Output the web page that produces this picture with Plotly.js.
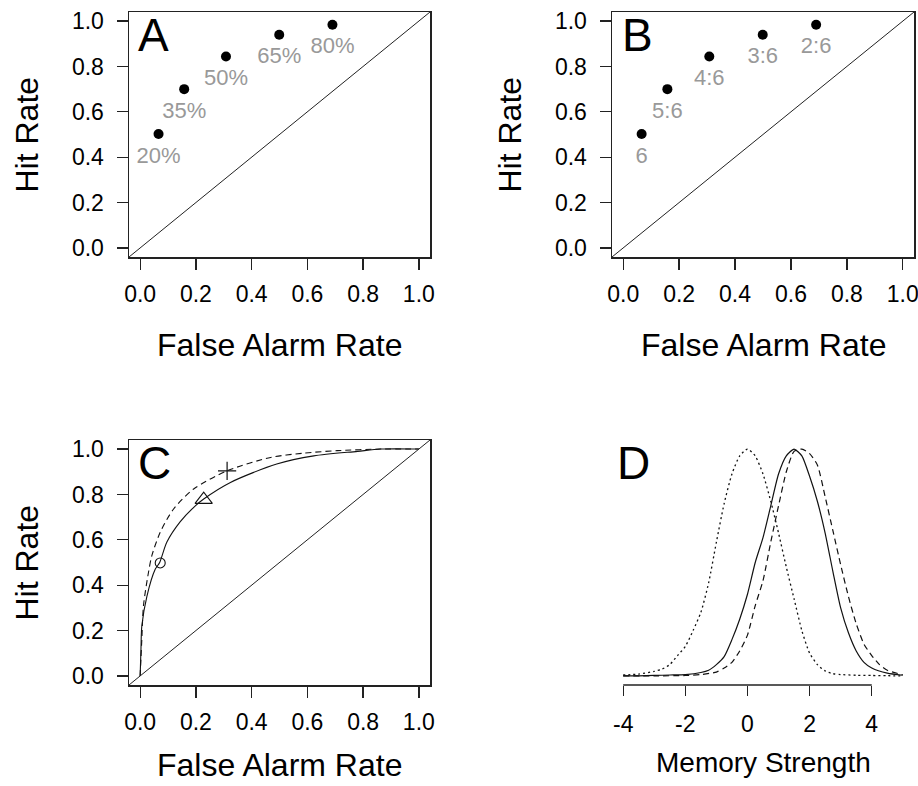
<!DOCTYPE html>
<html>
<head>
<meta charset="utf-8">
<script src="https://cdn.plot.ly/plotly-3.0.1.min.js"></script>
<style>html,body{margin:0;padding:0;background:#fff;}#chart{width:918px;height:786px;}</style>
</head>
<body>
<div id="chart"></div>
<script>
// ---- Data ----
var faRate  = [0.066, 0.158, 0.308, 0.499, 0.690];
var hitRate = [0.502, 0.700, 0.844, 0.940, 0.984];
var labelsA = ['20%', '35%', '50%', '65%', '80%'];
var labelsB = ['6', '5:6', '4:6', '3:6', '2:6'];

var rocTicks = [0, 0.2, 0.4, 0.6, 0.8, 1.0];
var rocTickText = ['0.0', '0.2', '0.4', '0.6', '0.8', '1.0'];

// Panel C: two ROC curves and three operating points
var rocSolidX = [0, 0.003, 0.006, 0.024, 0.054, 0.070, 0.096, 0.144, 0.198, 0.228, 0.324, 0.490, 0.623, 0.780, 0.863, 1.0];
var rocSolidY = [0, 0.12, 0.22, 0.35, 0.47, 0.50, 0.59, 0.68, 0.75, 0.78, 0.853, 0.934, 0.970, 0.990, 1.0, 1.0];
var rocDashX  = [0, 0.003, 0.006, 0.012, 0.030, 0.042, 0.072, 0.120, 0.192, 0.312, 0.468, 0.587, 0.707, 0.863, 1.0];
var rocDashY  = [0, 0.08, 0.16, 0.31, 0.457, 0.53, 0.633, 0.736, 0.824, 0.904, 0.963, 0.982, 0.993, 1.0, 1.0];
var circleX = [0.072], circleY = [0.498];
var triX = [0.228], triY = [0.777];
var plusX = [0.312], plusY = [0.904];

// Panel D: memory-strength distributions (peak-normalised)
var dotX = [-4, -3.5, -3, -2.75, -2.5, -2.25, -2, -1.75, -1.5, -1.25, -1, -0.75, -0.5, -0.25, 0, 0.25, 0.5, 0.75, 1, 1.25, 1.5, 1.75, 2, 2.25, 2.5, 2.75, 3, 3.5, 4, 4.5, 5];
var dotY = [0.004, 0.008, 0.02, 0.03, 0.05, 0.09, 0.13, 0.2, 0.28, 0.41, 0.59, 0.76, 0.89, 0.97, 1.0, 0.97, 0.89, 0.77, 0.63, 0.48, 0.34, 0.2, 0.1, 0.05, 0.022, 0.01, 0.006, 0.003, 0.002, 0.001, 0.0];
var solX = [-4, -3.5, -3, -2.5, -2, -1.5, -1.25, -1, -0.75, -0.5, -0.25, 0, 0.25, 0.5, 0.75, 1, 1.25, 1.5, 1.75, 2, 2.25, 2.5, 2.75, 3, 3.25, 3.5, 3.75, 4, 4.5, 5];
var solY = [0.0, 0.0, 0.002, 0.004, 0.006, 0.015, 0.025, 0.05, 0.085, 0.16, 0.25, 0.36, 0.50, 0.61, 0.75, 0.89, 0.97, 1.0, 0.97, 0.88, 0.77, 0.63, 0.46, 0.30, 0.19, 0.11, 0.06, 0.035, 0.012, 0.003];
var dashX = [-4, -3, -2, -1.5, -1, -0.75, -0.5, -0.25, 0, 0.25, 0.5, 0.75, 1, 1.25, 1.5, 1.75, 2, 2.25, 2.5, 2.75, 3, 3.25, 3.5, 3.75, 4, 4.25, 4.5, 5];
var dashY = [0.0, 0.0, 0.002, 0.006, 0.017, 0.035, 0.06, 0.11, 0.18, 0.31, 0.42, 0.59, 0.75, 0.90, 0.99, 1.0, 0.98, 0.93, 0.79, 0.64, 0.49, 0.35, 0.23, 0.14, 0.09, 0.05, 0.025, 0.005];
var dTicks = [-4, -2, 0, 2, 4];
var dTickText = ['-4', '-2', '0', '2', '4'];

// ---- Layout helpers ----
var W = 918, H = 786;
var FONT = 'Liberation Sans, Arial, sans-serif';
function px(x) { return x / W; }
function py(y) { return 1 - y / H; }

function rocAxis(domain, anchor, standoff) {
  return {
    domain: domain, anchor: anchor, range: [-0.04, 1.04],
    tickmode: 'array', tickvals: rocTicks, ticktext: rocTickText,
    ticks: 'outside', ticklen: 11, tickwidth: 1.3, tickcolor: '#222',
    ticklabelstandoff: standoff, ticklabeloverflow: 'allow',
    showline: true, mirror: true, linecolor: '#222', linewidth: 1.5,
    showgrid: false, zeroline: false, fixedrange: true,
    tickfont: {family: FONT, size: 23, color: '#000'}
  };
}

var xA = [px(129), px(430)], xB = [px(612), px(914)];
var yTop = [py(257), py(12)], yBot = [py(685), py(440)];

var dark = '#111';
function pointTraces(labels, xa, ya) {
  return [
    {x: faRate, y: hitRate, xaxis: xa, yaxis: ya, type: 'scatter', mode: 'markers',
     marker: {size: 10, color: '#000'}},
    {x: faRate, y: hitRate, xaxis: xa, yaxis: ya, type: 'scatter', mode: 'markers+text',
     text: labels, textposition: 'bottom center', cliponaxis: false,
     textfont: {family: FONT, size: 22, color: '#999999'},
     marker: {size: 18, color: '#fff', opacity: 0}}
  ];
}

var traces = [].concat(
  pointTraces(labelsA, 'x', 'y'),
  pointTraces(labelsB, 'x2', 'y2'),
  [
  {x: rocSolidX, y: rocSolidY, xaxis: 'x3', yaxis: 'y3', type: 'scatter', mode: 'lines',
   line: {color: dark, width: 1.1, shape: 'spline', smoothing: 0.8}},
  {x: rocDashX, y: rocDashY, xaxis: 'x3', yaxis: 'y3', type: 'scatter', mode: 'lines',
   line: {color: dark, width: 1.1, dash: '6px,4px', shape: 'spline', smoothing: 0.8}},
  {x: circleX, y: circleY, xaxis: 'x3', yaxis: 'y3', type: 'scatter', mode: 'markers',
   marker: {symbol: 'circle-open', size: 10, color: dark, line: {width: 1.1, color: dark}}},
  {x: triX, y: triY, xaxis: 'x3', yaxis: 'y3', type: 'scatter', mode: 'markers',
   marker: {symbol: 'triangle-up-open', size: 15, color: dark, line: {width: 1.1, color: dark}}},
  {x: plusX, y: plusY, xaxis: 'x3', yaxis: 'y3', type: 'scatter', mode: 'markers',
   marker: {symbol: 'cross-thin-open', size: 13, color: dark, line: {width: 1.2, color: dark}}},
  {x: dotX, y: dotY, xaxis: 'x4', yaxis: 'y4', type: 'scatter', mode: 'lines', line: {shape: 'spline', smoothing: 0.6,
   color: dark, width: 1.3, dash: '2px,3px'}},
  {x: solX, y: solY, xaxis: 'x4', yaxis: 'y4', type: 'scatter', mode: 'lines', line: {shape: 'spline', smoothing: 0.6,
   color: dark, width: 1.2}},
  {x: dashX, y: dashY, xaxis: 'x4', yaxis: 'y4', type: 'scatter', mode: 'lines', line: {shape: 'spline', smoothing: 0.6,
   color: dark, width: 1.2, dash: '6px,4px'}}
  ]
);

function ann(text, x, y, size, opts) {
  var a = {text: text, x: x, y: y, xref: 'paper', yref: 'paper', showarrow: false,
           xanchor: 'center', yanchor: 'middle', font: {family: FONT, size: size, color: '#000'}};
  for (var k in opts) a[k] = opts[k];
  return a;
}

var layout = {
  width: W, height: H, margin: {l: 0, r: 0, t: 0, b: 0},
  paper_bgcolor: '#fff', plot_bgcolor: '#fff', showlegend: false,
  xaxis: rocAxis(xA, 'y', 5), yaxis: rocAxis(yTop, 'x', 8),
  xaxis2: rocAxis(xB, 'y2', 5), yaxis2: rocAxis(yTop, 'x2', 8),
  xaxis3: rocAxis(xA, 'y3', 5), yaxis3: rocAxis(yBot, 'x3', 8),
  xaxis4: {domain: xB, anchor: 'y4', range: [-4.36, 5.36], tickmode: 'array',
           tickvals: dTicks, ticktext: dTickText, ticks: 'outside', ticklen: 10,
           tickwidth: 1.3, tickcolor: '#222', showline: false, showgrid: false,
           zeroline: false, fixedrange: true, ticklabelstandoff: 8,
           tickfont: {family: FONT, size: 23, color: '#000'}},
  yaxis4: {domain: yBot, anchor: 'x4', range: [-0.04, 1.04], visible: false, fixedrange: true},
  shapes: [
    {type: 'line', xref: 'x domain', yref: 'y domain', x0: 0, y0: 0, x1: 1, y1: 1, line: {color: '#222', width: 1}},
    {type: 'line', xref: 'x2 domain', yref: 'y2 domain', x0: 0, y0: 0, x1: 1, y1: 1, line: {color: '#222', width: 1}},
    {type: 'line', xref: 'x3 domain', yref: 'y3 domain', x0: 0, y0: 0, x1: 1, y1: 1, line: {color: '#222', width: 1}},
    {type: 'line', xref: 'x4', yref: 'y4 domain', x0: dTicks[0], y0: 0, x1: dTicks[dTicks.length - 1], y1: 0,
     line: {color: '#222', width: 1.5}}
  ],
  annotations: [
    ann('A', px(136), py(35), 46, {xanchor: 'left'}),
    ann('B', px(620), py(35), 46, {xanchor: 'left'}),
    ann('C', px(136), py(463), 46, {xanchor: 'left'}),
    ann('D', px(615), py(463), 46, {xanchor: 'left'}),
    ann('Hit Rate', px(26), py(134.5), 32, {textangle: -90}),
    ann('Hit Rate', px(509), py(134.5), 32, {textangle: -90}),
    ann('Hit Rate', px(26), py(562.5), 32, {textangle: -90}),
    ann('False Alarm Rate', px(279.5), py(345), 32),
    ann('False Alarm Rate', px(763), py(345), 32),
    ann('False Alarm Rate', px(279.5), py(765), 32),
    ann('Memory Strength', px(763.5), py(762), 28)
  ]
};

Plotly.newPlot('chart', traces, layout, {staticPlot: true, displayModeBar: false});
</script>
</body>
</html>
